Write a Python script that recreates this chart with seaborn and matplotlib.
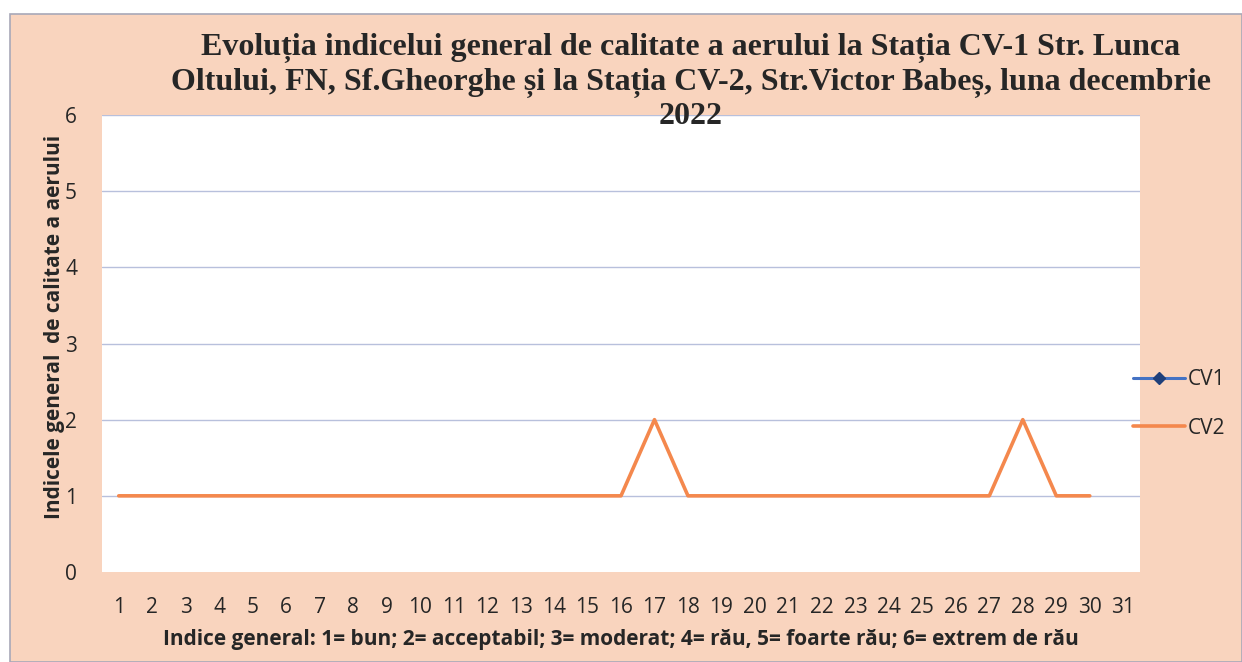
import numpy as np
import pandas as pd
import matplotlib
matplotlib.use("Agg")
import matplotlib.pyplot as plt
from matplotlib.lines import Line2D
from matplotlib.patches import Rectangle
import seaborn as sns

# ── data ──
days = list(range(1, 32))
cv1 = [np.nan] * 31   # no values shown for CV1
cv2 = [1, 1, 1, 1, 1, 1, 1, 1, 1, 1, 1, 1, 1, 1, 1, 1,
       2, 1, 1, 1, 1, 1, 1, 1, 1, 1, 1, 2, 1, 1, np.nan]
y_ticks = [0, 1, 2, 3, 4, 5, 6]

title = ("Evoluția indicelui general de calitate a aerului la Stația CV-1 Str. Lunca\n"
         "Oltului, FN, Sf.Gheorghe și la Stația CV-2, Str.Victor Babeș, luna decembrie\n"
         "2022")
x_label = "Indice general: 1= bun; 2= acceptabil; 3= moderat; 4= rău, 5= foarte rău; 6= extrem de rău"
y_label = "Indicele general  de calitate a aerului"

BG = "#f9d4be"
BLUE = "#4472c4"
ORANGE = "#f4884d"
GRID = "#b8c0dc"
TXT = "#262626"

sns.set_theme(style="white")
plt.rcParams["font.family"] = ["Open Sans", "DejaVu Sans"]

df = pd.DataFrame({"day": days, "CV1": cv1, "CV2": cv2})

fig = plt.figure(figsize=(12.42, 6.62), dpi=100, facecolor="white")
fig.patches.append(Rectangle((10 / 1242, 0), 1 - 10 / 1242, 1 - 14 / 662,
                             transform=fig.transFigure, facecolor=BG,
                             edgecolor="#a8a8b8", lw=1.2, zorder=-1))
ax = fig.add_axes([102 / 1242, 1 - 572 / 662, (1140 - 102) / 1242, (572 - 115) / 662])
ax.set_facecolor("white")

sns.lineplot(data=df, x="day", y="CV2", color=ORANGE, lw=2.6, ax=ax)
if df["CV1"].notna().any():
    sns.lineplot(data=df, x="day", y="CV1", color=BLUE, lw=2.2,
                 marker="D", markersize=7, ax=ax)

ax.set_xlim(0.5, 31.5)
ax.set_ylim(0, 6)
ax.set_yticks(y_ticks)
ax.set_xticks(days)
ax.set_xticklabels([str(d) for d in days])
for y in y_ticks[1:]:
    ax.axhline(y, color=GRID, lw=1.0, zorder=0)
for s in ax.spines.values():
    s.set_visible(False)
ax.tick_params(axis="both", length=0, labelsize=15, colors=TXT)
ax.tick_params(axis="x", pad=18)
ax.tick_params(axis="y", pad=18)

ax.set_xlabel(x_label, fontsize=15, fontweight="bold", color=TXT)
ax.xaxis.set_label_coords(0.5, -0.125)
ax.set_ylabel(y_label, fontsize=15, fontweight="bold", color=TXT)
ax.yaxis.set_label_coords(-0.036, 0.536)

fig.text(691 / 1242, 1 - 82 / 662, title, ha="center", va="center",
         fontsize=23, fontweight="bold", family=["Liberation Serif", "DejaVu Serif"],
         color=TXT, linespacing=1.2)

handles = [Line2D([], [], color=BLUE, lw=2.2, marker="D", markersize=6,
                  markerfacecolor="#1f3f7a", markeredgecolor="#1f3f7a"),
           Line2D([], [], color=ORANGE, lw=2.6)]
fig.legend(handles, ["CV1", "CV2"], loc="center left",
           bbox_to_anchor=(1114 / 1242, 1 - 404 / 662), frameon=False,
           fontsize=15, handlelength=2.5, handletextpad=0.15, labelspacing=1.3,
           labelcolor=TXT)

fig.savefig("out.png", dpi=100, facecolor="white")
